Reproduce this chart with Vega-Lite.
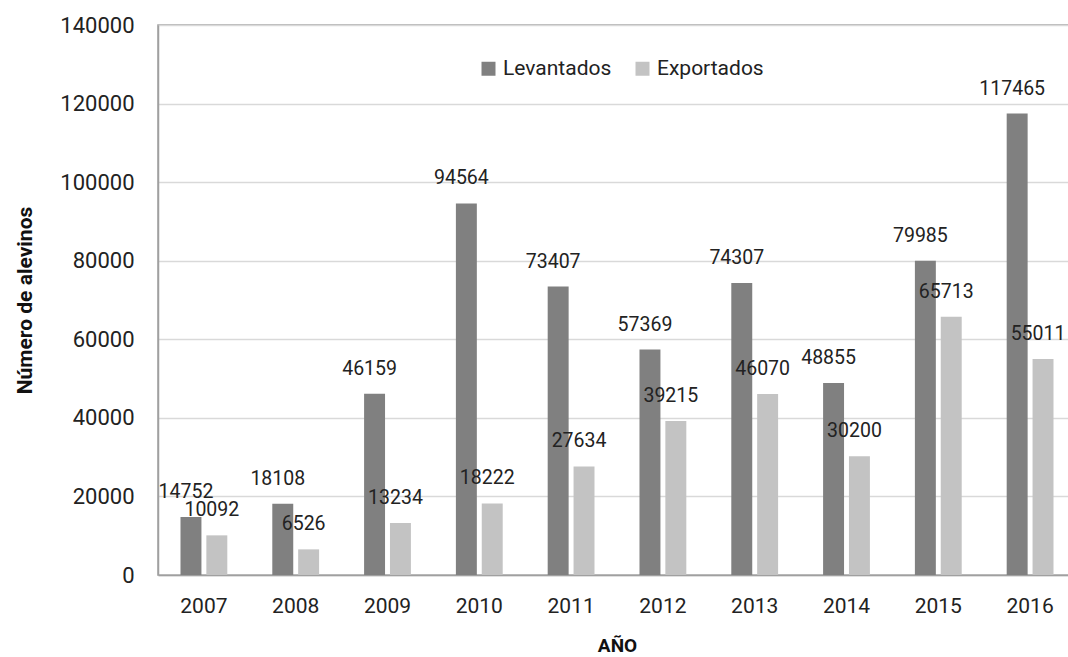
{
  "$schema": "https://vega.github.io/schema/vega-lite/v6.json",
  "width": 918,
  "height": 550,
  "autosize": {"type": "none"},
  "padding": {"left": 158, "top": 25, "right": -8, "bottom": 82},
  "config": {
    "font": "Roboto",
    "view": {"stroke": "#a0a0a0", "strokeWidth": 1.5},
    "axis": {
      "domainColor": "#a0a0a0",
      "domainWidth": 1.5,
      "ticks": false,
      "labelColor": "#222222",
      "titleColor": "#111111",
      "labelFont": "Roboto",
      "titleFont": "Roboto",
      "titleFontWeight": "bold"
    }
  },
  "data": {
    "values": [
      {"anio": "2007", "serie": "Levantados", "valor": 14752},
      {"anio": "2007", "serie": "Exportados", "valor": 10092},
      {"anio": "2008", "serie": "Levantados", "valor": 18108},
      {"anio": "2008", "serie": "Exportados", "valor": 6526},
      {"anio": "2009", "serie": "Levantados", "valor": 46159},
      {"anio": "2009", "serie": "Exportados", "valor": 13234},
      {"anio": "2010", "serie": "Levantados", "valor": 94564},
      {"anio": "2010", "serie": "Exportados", "valor": 18222},
      {"anio": "2011", "serie": "Levantados", "valor": 73407},
      {"anio": "2011", "serie": "Exportados", "valor": 27634},
      {"anio": "2012", "serie": "Levantados", "valor": 57369},
      {"anio": "2012", "serie": "Exportados", "valor": 39215},
      {"anio": "2013", "serie": "Levantados", "valor": 74307},
      {"anio": "2013", "serie": "Exportados", "valor": 46070},
      {"anio": "2014", "serie": "Levantados", "valor": 48855},
      {"anio": "2014", "serie": "Exportados", "valor": 30200},
      {"anio": "2015", "serie": "Levantados", "valor": 79985},
      {"anio": "2015", "serie": "Exportados", "valor": 65713},
      {"anio": "2016", "serie": "Levantados", "valor": 117465},
      {"anio": "2016", "serie": "Exportados", "valor": 55011}
    ]
  },
  "encoding": {
    "x": {
      "field": "anio",
      "type": "ordinal",
      "scale": {"paddingInner": 0.49, "paddingOuter": 0.245},
      "axis": {
        "title": "AÑO",
        "labelAngle": 0,
        "labelFontSize": 21,
        "labelPadding": 20,
        "titleFontSize": 19,
        "titlePadding": 20
      }
    },
    "xOffset": {
      "field": "serie",
      "sort": ["Levantados", "Exportados"],
      "scale": {"paddingInner": 0.19, "paddingOuter": 0}
    },
    "y": {
      "field": "valor",
      "type": "quantitative",
      "scale": {"domain": [0, 140000]},
      "axis": {
        "title": "Número de alevinos",
        "values": [0, 20000, 40000, 60000, 80000, 100000, 120000, 140000],
        "format": "d",
        "grid": true,
        "gridColor": "#d9d9d9",
        "gridWidth": 1.5,
        "labelFontSize": 22,
        "labelPadding": 24,
        "titleFontSize": 21,
        "titlePadding": 24
      }
    }
  },
  "layer": [
    {
      "mark": {"type": "bar"},
      "encoding": {
        "color": {
          "field": "serie",
          "type": "nominal",
          "sort": ["Levantados", "Exportados"],
          "scale": {"domain": ["Levantados", "Exportados"], "range": ["#808080", "#c3c3c3"]},
          "legend": {
            "title": null,
            "orient": "none",
            "legendX": 320,
            "legendY": 33,
            "direction": "horizontal",
            "columns": 2,
            "symbolType": "square",
            "symbolSize": 196,
            "symbolStrokeWidth": 0,
            "labelFontSize": 21,
            "labelColor": "#222222",
            "labelOffset": 4,
            "columnPadding": 20
          }
        }
      }
    },
    {
      "mark": {
        "type": "text",
        "dx": -5,
        "dy": -19,
        "baseline": "alphabetic",
        "fontSize": 19.5,
        "color": "#222222"
      },
      "encoding": {
        "text": {"field": "valor", "type": "quantitative", "format": "d"}
      }
    }
  ]
}
